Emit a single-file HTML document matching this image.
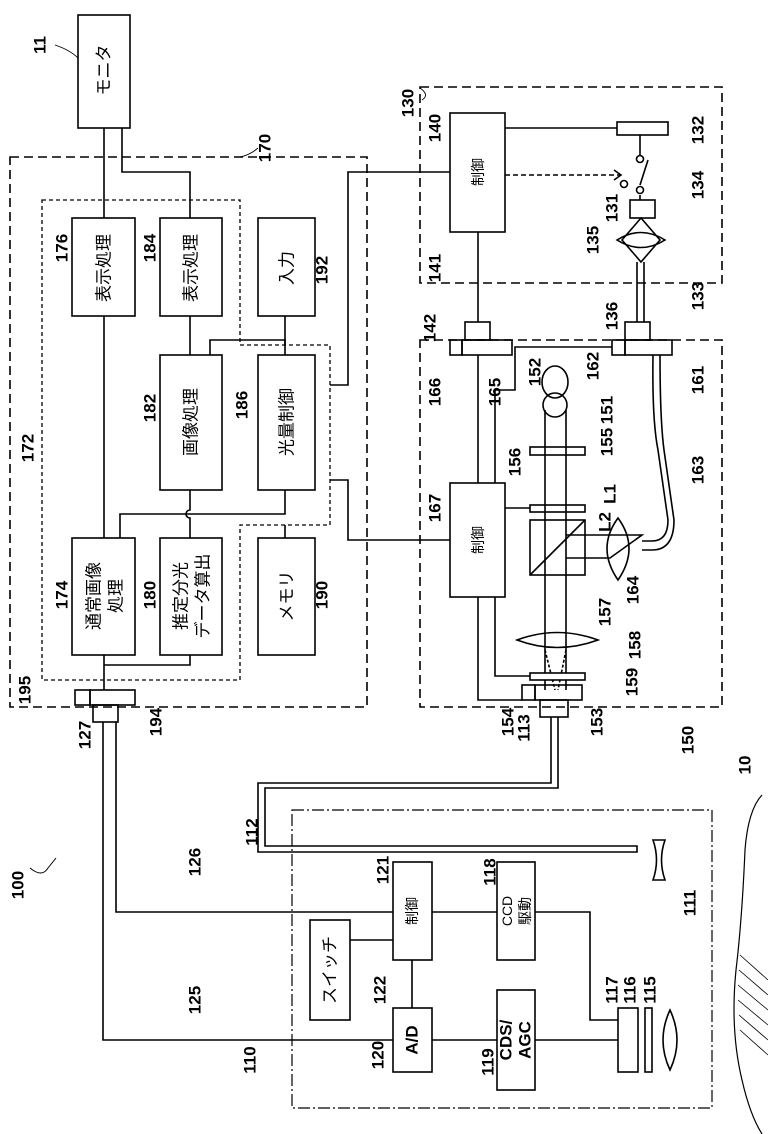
<!DOCTYPE html>
<html><head><meta charset="utf-8"><style>
html,body{margin:0;padding:0;background:#fff}
svg{display:block}
text{font-family:"Liberation Sans","Noto Sans CJK JP",sans-serif;fill:#000}
.n{font-size:17px;font-weight:bold}
.j{font-size:17px}
.s{font-size:14px}
</style></head><body>
<svg width="768" height="1134" viewBox="0 0 768 1134" xmlns="http://www.w3.org/2000/svg">
<g fill="none" stroke="#000" stroke-width="1.6">
<rect x="78" y="15" width="52" height="113"/>
<rect x="10" y="157" width="357" height="550" stroke-dasharray="9,5"/>
<path d="M42,200 H240 V345 H330 V525 H240 V680 H42 Z" stroke-dasharray="4,3" stroke-width="1.3"/>
<rect x="72" y="218" width="63" height="98"/>
<rect x="160" y="218" width="62" height="98"/>
<rect x="258" y="218" width="57" height="98"/>
<rect x="160" y="355" width="62" height="135"/>
<rect x="258" y="355" width="57" height="135"/>
<rect x="72" y="538" width="63" height="117"/>
<rect x="160" y="538" width="62" height="117"/>
<rect x="258" y="538" width="57" height="117"/>
<path d="M104,128 V218 M104,316 V538 M104,655 V690"/>
<path d="M122,128 V172 H190 V218 M190,316 V355"/>
<path d="M190,490 V510 a4,4 0 0 0 0,8 V538"/>
<path d="M120,538 V514 H285 V490"/>
<path d="M104,665 H190 V655"/>
<path d="M210,355 V340 H285 V355"/>
<path d="M285,316 V345 M285,525 V538"/>
<path d="M330,385 H348 V172 H450"/>
<path d="M330,480 H348 V540 H450"/>
<rect x="75" y="690" width="15" height="15"/>
<rect x="90" y="690" width="45" height="15"/>
<rect x="93" y="705" width="25" height="17"/>
<rect x="420" y="87" width="302" height="196" stroke-dasharray="9,5"/>
<rect x="450" y="113" width="55" height="119"/>
<path d="M478,232 V322"/>
<path d="M505,128 H617"/>
<rect x="617" y="122" width="51" height="13"/>
<path d="M640,135 V155 M640,195 V200 M640,185 L648,160"/>
<circle cx="640" cy="159" r="3.5"/><circle cx="640" cy="190" r="3.5"/><circle cx="624" cy="184" r="3.5"/>
<path d="M505,175 H620" stroke-dasharray="5,3"/>
<path d="M614,170 L621,175 L614,180"/>
<rect x="630" y="200" width="25" height="18"/>
<path d="M617,240 Q641,225 665,240 Q641,255 617,240 Z"/>
<path d="M641,218 L622,240 L641,262 L660,240 Z"/>
<path d="M637,262 V322 M644,262 V322"/>
<rect x="625" y="322" width="25" height="18"/>
<rect x="465" y="322" width="25" height="18"/>
<rect x="450" y="340" width="12" height="15"/>
<rect x="462" y="340" width="50" height="15"/>
<rect x="612" y="340" width="13" height="15"/>
<rect x="625" y="340" width="47" height="15"/>
<rect x="420" y="340" width="302" height="367" stroke-dasharray="9,5"/>
<path d="M478,355 V483"/>
<path d="M612,347 H515 V390 H495 V483"/>
<rect x="450" y="483" width="55" height="114"/>
<ellipse cx="555" cy="382" rx="13" ry="16"/>
<circle cx="555" cy="405" r="12"/>
<rect x="530" y="447" width="55" height="8" fill="#fff"/>
<rect x="530" y="505" width="55" height="7" fill="#fff"/>
<path d="M505,508 H530"/>
<rect x="530" y="520" width="55" height="55" fill="#fff"/>
<path d="M530,575 L585,520"/>
<path d="M545,410 V690 M566,410 V690"/>
<path d="M566,535 H642 L610,558 H566"/>
<path d="M618,518 Q640,548 618,580 Q596,548 618,518 Z"/>
<path d="M642,541 H652 Q668,541 668,520 L658,450 Q652,420 653,355 M642,550 H652 Q674,550 674,520 L664,450 Q660,420 660,355"/>
<path d="M517,640 Q557,625 598,640 Q557,655 517,640 Z"/>
<path d="M545,650 L555,690 M566,650 L558,690" stroke-dasharray="3,2"/>
<rect x="530" y="673" width="55" height="7" fill="#fff"/>
<path d="M495,597 V676 H530"/>
<path d="M478,597 V700 H522"/>
<rect x="522" y="685" width="13" height="15"/>
<rect x="535" y="685" width="47" height="15"/>
<rect x="540" y="700" width="28" height="17"/>
<path d="M551,717 V783 H258 V852 H637 V846 H265 V788 H558 V717"/>
<rect x="292" y="810" width="420" height="298" stroke-dasharray="12,3,2,3" stroke-width="1.2"/>
<path d="M653,840 L665,840 Q658,860 665,880 L653,880 Q660,860 653,840 Z"/>
<rect x="393" y="862" width="39" height="98"/>
<rect x="497" y="862" width="38" height="98"/>
<rect x="310" y="920" width="40" height="100"/>
<rect x="393" y="1008" width="39" height="64"/>
<rect x="497" y="990" width="38" height="100"/>
<rect x="618" y="1008" width="20" height="64"/>
<rect x="645" y="1008" width="7" height="64"/>
<path d="M670,1010 Q684,1040 670,1070 Q656,1040 670,1010 Z"/>
<path d="M103,722 V1040 H393 M116,722 V912 H393 M432,912 H497 M535,912 H590 V1020 H618 M350,940 H393 M412,960 V1008 M432,1040 H497 M535,1040 H618"/>
<path d="M762,795 Q748,810 745,850 Q742,920 736,970 Q730,1030 742,1080 Q750,1115 762,1134" stroke-width="1.2"/>
<path d="M740,955 L768,980 M739,970 L768,995 M738,985 L768,1010 M738,1000 L768,1025 M739,1015 L768,1040 M740,1030 L768,1055" stroke-width="0.8"/>
<path d="M55,45 Q70,50 78,58 M258,148 Q250,155 240,157 M422,100 Q430,95 420,88" stroke-width="0.9"/>
<path d="M30,868 Q42,878 48,868 L56,858" stroke-width="1"/>
</g>
<g text-anchor="middle" dominant-baseline="central">
<g class="j">
<text transform="translate(104,70) rotate(-90)">モニタ</text>
<text transform="translate(104,268) rotate(-90)">表示処理</text>
<text transform="translate(191,268) rotate(-90)">表示処理</text>
<text transform="translate(287,268) rotate(-90)">入力</text>
<text transform="translate(191,422) rotate(-90)">画像処理</text>
<text transform="translate(287,422) rotate(-90)">光量制御</text>
<text transform="translate(94,596) rotate(-90)">通常画像</text>
<text transform="translate(116,596) rotate(-90)">処理</text>
<text transform="translate(181,596) rotate(-90)">推定分光</text>
<text transform="translate(203,596) rotate(-90)">データ算出</text>
<text transform="translate(287,596) rotate(-90)">メモリ</text>
<text transform="translate(330,970) rotate(-90)">スイッチ</text>
</g>
<g class="s">
<text transform="translate(478,172) rotate(-90)">制御</text>
<text transform="translate(478,540) rotate(-90)">制御</text>
<text transform="translate(412,911) rotate(-90)">制御</text>
<text transform="translate(507,911) rotate(-90)">CCD</text>
<text transform="translate(525,911) rotate(-90)">駆動</text>
</g>
<g class="n">
<text transform="translate(412,1040) rotate(-90)">A/D</text>
<text transform="translate(506,1040) rotate(-90)">CDS/</text>
<text transform="translate(525,1040) rotate(-90)">AGC</text>
<text transform="translate(40,45) rotate(-90)">11</text>
<text transform="translate(265,148) rotate(-90)">170</text>
<text transform="translate(408,103) rotate(-90)">130</text>
<text transform="translate(435,128) rotate(-90)">140</text>
<text transform="translate(698,130) rotate(-90)">132</text>
<text transform="translate(698,185) rotate(-90)">134</text>
<text transform="translate(612,208) rotate(-90)">131</text>
<text transform="translate(593,240) rotate(-90)">135</text>
<text transform="translate(435,268) rotate(-90)">141</text>
<text transform="translate(698,296) rotate(-90)">133</text>
<text transform="translate(430,328) rotate(-90)">142</text>
<text transform="translate(612,316) rotate(-90)">136</text>
<text transform="translate(435,392) rotate(-90)">166</text>
<text transform="translate(495,392) rotate(-90)">165</text>
<text transform="translate(593,366) rotate(-90)">162</text>
<text transform="translate(698,380) rotate(-90)">161</text>
<text transform="translate(535,372) rotate(-90)">152</text>
<text transform="translate(607,410) rotate(-90)">151</text>
<text transform="translate(607,442) rotate(-90)">155</text>
<text transform="translate(515,462) rotate(-90)">156</text>
<text transform="translate(610,494) rotate(-90)">L1</text>
<text transform="translate(435,508) rotate(-90)">167</text>
<text transform="translate(605,522) rotate(-90)">L2</text>
<text transform="translate(698,470) rotate(-90)">163</text>
<text transform="translate(633,590) rotate(-90)">164</text>
<text transform="translate(605,612) rotate(-90)">157</text>
<text transform="translate(635,645) rotate(-90)">158</text>
<text transform="translate(632,682) rotate(-90)">159</text>
<text transform="translate(508,722) rotate(-90)">154</text>
<text transform="translate(524,728) rotate(-90)">113</text>
<text transform="translate(597,722) rotate(-90)">153</text>
<text transform="translate(688,740) rotate(-90)">150</text>
<text transform="translate(25,690) rotate(-90)">195</text>
<text transform="translate(85,735) rotate(-90)">127</text>
<text transform="translate(156,722) rotate(-90)">194</text>
<text transform="translate(62,248) rotate(-90)">176</text>
<text transform="translate(150,248) rotate(-90)">184</text>
<text transform="translate(322,270) rotate(-90)">192</text>
<text transform="translate(150,408) rotate(-90)">182</text>
<text transform="translate(242,405) rotate(-90)">186</text>
<text transform="translate(28,448) rotate(-90)">172</text>
<text transform="translate(62,595) rotate(-90)">174</text>
<text transform="translate(150,595) rotate(-90)">180</text>
<text transform="translate(322,595) rotate(-90)">190</text>
<text transform="translate(18,885) rotate(-90)">100</text>
<text transform="translate(195,862) rotate(-90)">126</text>
<text transform="translate(195,1000) rotate(-90)">125</text>
<text transform="translate(383,870) rotate(-90)">121</text>
<text transform="translate(490,872) rotate(-90)">118</text>
<text transform="translate(690,903) rotate(-90)">111</text>
<text transform="translate(380,990) rotate(-90)">122</text>
<text transform="translate(612,990) rotate(-90)">117</text>
<text transform="translate(630,990) rotate(-90)">116</text>
<text transform="translate(650,990) rotate(-90)">115</text>
<text transform="translate(378,1055) rotate(-90)">120</text>
<text transform="translate(488,1062) rotate(-90)">119</text>
<text transform="translate(250,1060) rotate(-90)">110</text>
<text transform="translate(252,832) rotate(-90)">112</text>
<text transform="translate(745,765) rotate(-90)">10</text>
</g>
</g>
</svg>
</body></html>
